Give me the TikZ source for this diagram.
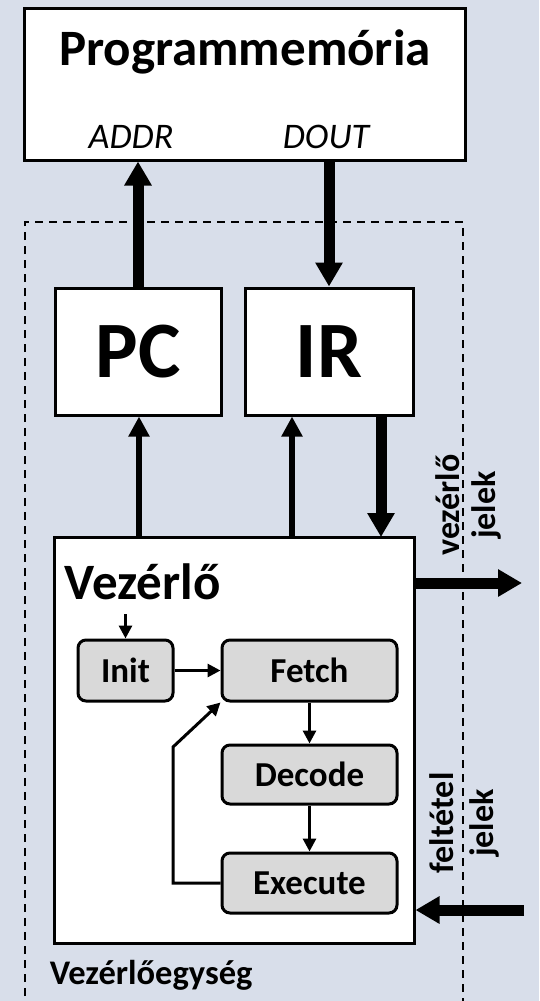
\documentclass[tikz,border=0pt]{standalone}
\usepackage{fontspec}
\setmainfont{Carlito}
\usetikzlibrary{arrows.meta}
\definecolor{bgblue}{HTML}{D8DEEA}
\definecolor{stategray}{HTML}{D9D9D9}

\begin{document}
\begin{tikzpicture}[x=1pt, y=-1pt, font=\bfseries, line width=3pt,
  block/.style={draw, fill=white, inner sep=0pt},
  statebox/.style={draw, fill=stategray, rounded corners=8pt, inner sep=0pt,
    font=\bfseries\fontsize{35}{35}\selectfont},
  sidelabel/.style={rotate=90, font=\bfseries\fontsize{34}{34}\selectfont},
  bus/.style={line width=11pt, -{Triangle[length=24pt,width=26pt]}},
  wire/.style={line width=6pt, -{Triangle[length=20pt,width=20pt]}},
  fsmarrow/.style={line width=3pt, -{Triangle[length=13pt,width=13pt]}}]
  % background
  \fill[bgblue] (0,0) rectangle (539,1001);
  \useasboundingbox (0,0) rectangle (539,1001);
  % control unit frame
  \draw[line width=2pt, dash pattern=on 8pt off 6pt]
    (25,1010) -- (25,222) -- (463,222) -- (463,1010);
  \node[anchor=west, font=\bfseries\fontsize{34.5}{34.5}\selectfont] (cu) at (45,975) {Vezérlőegység};
  % program memory
  \node[block, minimum width=441pt, minimum height=152pt] (prog) at (244.5,84) {};
  \node[font=\bfseries\fontsize{51}{51}\selectfont] (progt) at (245,52) {Programmemória};
  \node[font=\itshape\fontsize{36}{36}\selectfont] (addr) at (131,137) {ADDR};
  \node[font=\itshape\fontsize{36}{36}\selectfont] (dout) at (326,137) {DOUT};
  % registers
  \node[block, minimum width=166pt, minimum height=127pt,
        font=\bfseries\fontsize{80}{80}\selectfont] (pc) at (138,351.5) {PC};
  \node[block, minimum width=168pt, minimum height=127pt,
        font=\bfseries\fontsize{80}{80}\selectfont] (ir) at (329,351.5) {IR};
  % controller
  \node[block, minimum width=360pt, minimum height=406pt] (ctrl) at (234,740) {};
  \node[anchor=west, font=\bfseries\fontsize{51}{51}\selectfont] (ctrlt) at (60,582) {Vezérlő};
  \node[statebox, minimum width=95pt, minimum height=61pt] (init) at (125.5,670.5) {Init};
  \node[statebox, minimum width=175pt, minimum height=61pt] (fetch) at (309.5,670.5) {Fetch};
  \node[statebox, minimum width=175pt, minimum height=59pt] (decode) at (309.5,774.5) {Decode};
  \node[statebox, minimum width=175pt, minimum height=60pt] (exec) at (309.5,883) {Execute};
  % buses to memory
  \draw[bus] (pc.north) -- (pc.north |- prog.south);
  \draw[bus] (ir.north |- prog.south) -- (ir.north);
  % controller to registers
  \coordinate (pcin) at (139,537);
  \coordinate (irin) at (292,537);
  \coordinate (irout) at (381,537);
  \draw[wire] (pcin) -- (pcin |- pc.south);
  \draw[wire] (irin) -- (irin |- ir.south);
  \draw[bus] (irout |- ir.south) -- (irout);
  % state machine
  \coordinate (reset) at (125.5,614);
  \draw[fsmarrow] (reset) -- (init.north);
  \draw[fsmarrow] (init.east) -- (fetch.west);
  \draw[fsmarrow] (fetch.south) -- (decode.north);
  \draw[fsmarrow] (decode.south) -- (exec.north);
  \draw[fsmarrow] (exec.west) -- (173,883) -- (173,747) -- (fetch.south west);
  % external signals
  \coordinate (ctrlout) at (522,583);
  \coordinate (condin) at (524,910);
  \draw[bus] (ctrl.east |- ctrlout) -- (ctrlout);
  \draw[bus] (condin) -- (ctrl.east |- condin);
  \node[sidelabel] (vj1) at (448,505) {vezérlő};
  \node[sidelabel] (vj2) at (486,505) {jelek};
  \node[sidelabel] (fj1) at (442,823) {feltétel};
  \node[sidelabel] (fj2) at (484,823) {jelek};
\end{tikzpicture}
\end{document}
